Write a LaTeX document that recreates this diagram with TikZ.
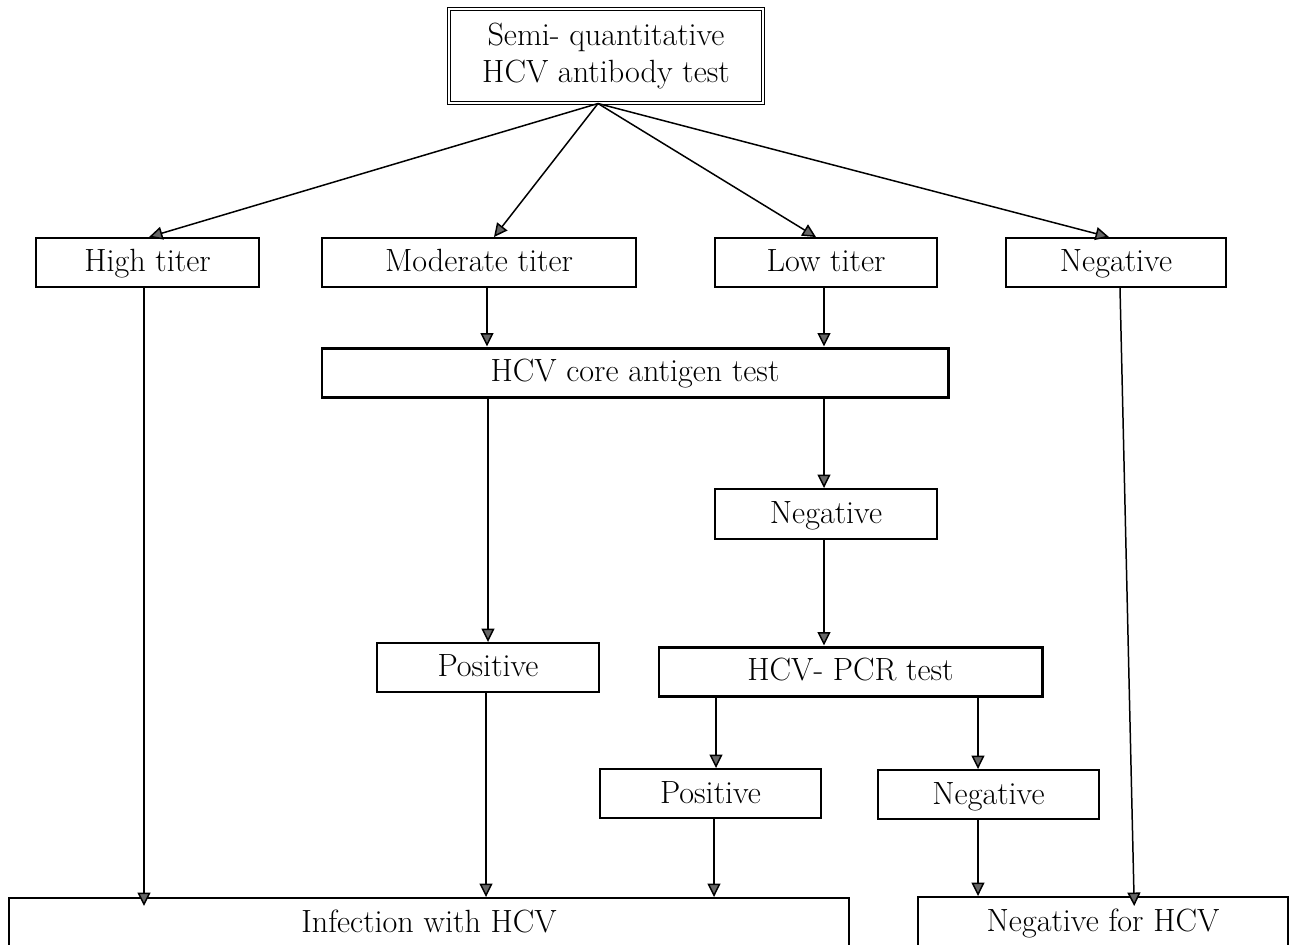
\documentclass[tikz,border=0pt]{standalone}
\usepackage{tikz}
\usetikzlibrary{arrows.meta,positioning,calc}

\begin{document}
\begin{tikzpicture}[
    frame/.style={draw,line width=1.1pt,inner sep=0pt,
                  font=\fontsize{18.3}{21.6}\selectfont},
    box/.style={frame,minimum height=0.98cm,text height=13.8pt,text depth=3pt},
    testbox/.style={box,line width=1.7pt},
    arr/.style={-{Triangle[length=2.7mm,width=2.6mm,fill=black!60]},line width=0.85pt},
  ]
  \useasboundingbox (0,0) rectangle (25.94,-18.90);
  % Antibody test
  \node[frame,double,double distance=0.9pt,line width=0.6pt,minimum width=6.28cm,
        minimum height=1.88cm,align=center] (abtest) at (12.12,-1.12)
        {Semi- quantitative\\HCV antibody test};
  % Titer results
  \node[box,minimum width=4.46cm] (high) at (2.95,-5.25) {High titer};
  \node[box,minimum width=6.28cm] (moderate) at (9.58,-5.25) {Moderate titer};
  \node[box,minimum width=4.44cm] (low) at (16.52,-5.25) {Low titer};
  \node[box,minimum width=4.40cm] (negtiter) at (22.32,-5.25) {Negative};
  % Core antigen
  \node[testbox,minimum width=12.52cm] (core) at (12.70,-7.45) {HCV core antigen test};
  \node[box,minimum width=4.44cm,minimum height=1.0cm] (negcore) at (16.52,-10.28) {Negative};
  \node[box,minimum width=4.44cm] (poscore) at (9.76,-13.35) {Positive};
  % PCR
  \node[testbox,minimum width=7.66cm] (pcr) at (17.01,-13.43) {HCV- PCR test};
  \node[box,minimum width=4.42cm] (pospcr) at (14.21,-15.87) {Positive};
  \node[box,minimum width=4.42cm] (negpcr) at (19.77,-15.89) {Negative};
  % Outcomes
  \node[box,minimum width=16.80cm,minimum height=1.0cm] (infect) at (8.58,-18.46) {Infection with HCV};
  \node[box,minimum width=7.40cm,minimum height=1.0cm] (neghcv) at (22.06,-18.44) {Negative for HCV};

  % Arrows from antibody test
  \foreach \res/\dx in {high/0.03,moderate/0.30,low/-0.20,negtiter/-0.14}{
    \draw[arr] ([xshift=-0.16cm]abtest.south) -- ([xshift=\dx cm]\res.north);
  }
  % Down to core antigen test
  \draw[arr] ([xshift=0.16cm]moderate.south) -- ([xshift=0.16cm]moderate.south |- core.north);
  \draw[arr] ([xshift=-0.04cm]low.south) -- ([xshift=-0.04cm]low.south |- core.north);
  \draw[arr] (poscore.north |- core.south) -- (poscore.north);
  \draw[arr] ([xshift=-0.04cm]negcore.north |- core.south) -- ([xshift=-0.04cm]negcore.north);
  \draw[arr] ([xshift=-0.04cm]negcore.south) -- ([xshift=-0.04cm]negcore.south |- pcr.north);
  % PCR results
  \draw[arr] ([xshift=0.11cm]pospcr.north |- pcr.south) -- ([xshift=0.11cm]pospcr.north);
  \draw[arr] ([xshift=-0.21cm]negpcr.north |- pcr.south) -- ([xshift=-0.21cm]negpcr.north);
  % Into outcomes
  \draw[arr,shorten >=-0.18cm] ([xshift=-0.07cm]high.south) -- ([xshift=-0.07cm]high.south |- infect.north);
  \draw[arr] ([xshift=-0.04cm]poscore.south) -- ([xshift=-0.04cm]poscore.south |- infect.north);
  \draw[arr] ([xshift=0.07cm]pospcr.south) -- ([xshift=0.07cm]pospcr.south |- infect.north);
  \draw[arr] ([xshift=-0.21cm]negpcr.south) -- ([xshift=-0.21cm]negpcr.south |- neghcv.north);
  \draw[arr,shorten >=-0.2cm] ([xshift=0.08cm]negtiter.south) -- ([xshift=0.62cm]neghcv.north);
\end{tikzpicture}
\end{document}
